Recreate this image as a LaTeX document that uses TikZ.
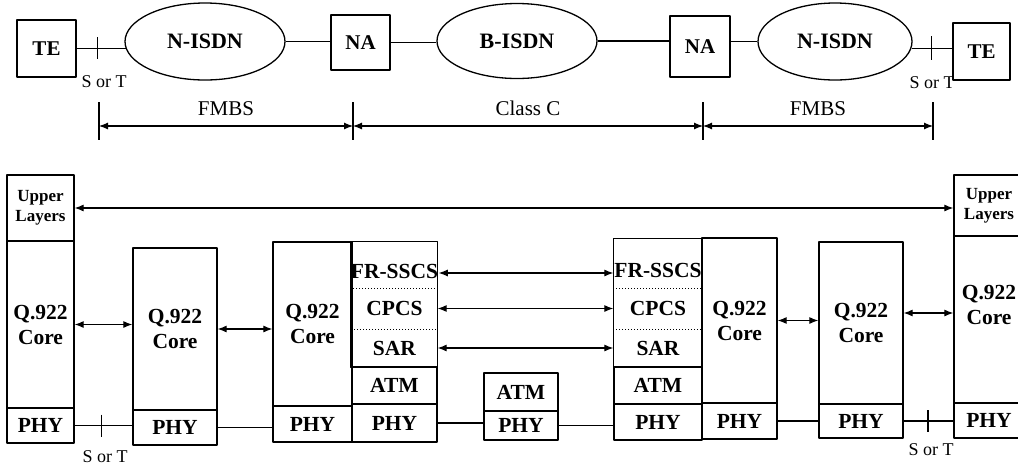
\documentclass[tikz,border=0pt]{standalone}
\usepackage{fontspec}
\setmainfont{Liberation Serif}
\usetikzlibrary{shapes.geometric, arrows.meta}

% one layer of a protocol stack, given by its two corners
\newcommand{\cell}[7][stackcell]{%
  \node[#1, minimum width={(#5-#3)*1pt}, minimum height={(#6-#4)*1pt}]
    (#2) at ({(#3+#5)/2},{(#4+#6)/2}) {#7};}

\begin{document}
\begin{tikzpicture}[
  x=1pt, y=-1pt,
  line join=round,
  unitbox/.style={draw, line width=1.3pt, inner sep=0pt, font=\bfseries\fontsize{21}{24}\selectfont},
  net/.style={draw, ellipse, line width=1.3pt, inner sep=0pt, font=\bfseries\fontsize{22}{25}\selectfont},
  stackcell/.style={draw, line width=1.3pt, inner sep=0pt, align=center, font=\bfseries\fontsize{21.5}{25}\selectfont},
  sub/.style={stackcell, draw=none},
  upper/.style={stackcell, font=\bfseries\fontsize{17}{20}\selectfont},
  link/.style={line width=1.1pt},
  peer/.style={link, {Latex[length=9pt,width=7pt]}-{Latex[length=9pt,width=7pt]}},
  lbl/.style={font=\fontsize{18}{20}\selectfont},
  spanlbl/.style={font=\fontsize{21}{24}\selectfont, above=6pt},
]
\clip (0,0) rectangle (1018,467);

% ── the reference configuration ───────────────────────────────────────────
\node[unitbox, minimum width=59pt, minimum height=57pt] (te1) at (46.5,48.5) {TE};
\node[net, minimum width=160pt, minimum height=77pt] (n1) at (205,41.5) {N-ISDN};
\node[unitbox, minimum width=59pt, minimum height=55pt] (na1) at (360.5,42.5) {NA};
\node[net, minimum width=160pt, minimum height=75pt] (bi) at (517,41) {B-ISDN};
\node[unitbox, minimum width=60pt, minimum height=61pt] (na2) at (700,46.5) {NA};
\node[net, minimum width=154pt, minimum height=77pt] (n2) at (835,41.5) {N-ISDN};
\node[lbl] (st2lbl) at (932,83) {S or T};
\node[unitbox, fill=white, minimum width=57pt, minimum height=57pt] (te2) at (981.5,51.5) {TE};

\draw[link] (te1.east |- n1.185) -- coordinate[pos=0.43] (st1) (n1.185);
\draw[link] ([yshift=11pt]st1) -- ([yshift=-11pt]st1);
\node[lbl] (st1lbl) at (104,82) {S or T};
\draw[link] (n1.east) -- (n1.east -| na1.west);
\draw[link] (na1.east) -- (na1.east -| bi.west);
\draw[link] (bi.east) -- (bi.east -| na2.west);
\draw[link] (n2.west -| na2.east) -- (n2.west);
\draw[link] (n2.-5) -- coordinate[pos=0.49] (st2) (n2.-5 -| te2.west);
\draw[link] ([yshift=12pt]st2) -- ([yshift=-12pt]st2);

% ── what each stretch carries ─────────────────────────────────────────────
\coordinate (d1) at (99,126);
\coordinate (d2) at (353,126);
\coordinate (d3) at (703,126);
\coordinate (d4) at (933,126);
\foreach \d in {d1,d2,d3,d4}
  \draw[link] ([yshift=24pt]\d) -- ([yshift=-14pt]\d);
\draw[peer] (d1) -- node[spanlbl] {FMBS} (d2);
\draw[peer] (d2) -- node[spanlbl] {Class C} (d3);
\draw[peer] (d3) -- node[spanlbl] {FMBS} (d4);

% ── the protocol stacks ───────────────────────────────────────────────────
\cell[upper]{ul1}{7}{175}{74}{241}{Upper\\Layers}
\cell{q1}{7}{241}{74}{408}{Q.922\\Core}
\cell{p1}{7}{408}{74}{443}{PHY}

\cell{q2}{133}{248}{217}{410}{Q.922\\Core}
\cell{p2}{133}{410}{217}{445}{PHY}

\cell{q3}{273}{242}{352}{406}{Q.922\\Core}
\cell{p3a}{273}{406}{352}{442}{PHY}
\cell[sub, text height=28pt]{fr3}{352}{242}{437}{288}{FR-SSCS}
\cell[sub]{cp3}{352}{288}{437}{329}{CPCS}
\cell[sub]{sar3}{352}{329}{437}{367}{SAR}
\cell{atm3}{352}{367}{437}{404}{ATM}
\cell{p3b}{352}{404}{437}{442}{PHY}
\draw[line width=1.3pt] (fr3.north west) rectangle (sar3.south east);
\draw[dotted, line width=1pt] (fr3.south west) -- (fr3.south east);
\draw[dotted, line width=1pt] (cp3.south west) -- (cp3.south east);

\cell{atm}{484}{373}{558}{411}{ATM}
\cell{pm}{484}{411}{558}{440}{PHY}

\cell[sub, text height=28pt]{fr4}{614}{239}{702}{288}{FR-SSCS}
\cell[sub]{cp4}{614}{288}{702}{329}{CPCS}
\cell[sub]{sar4}{614}{329}{702}{367}{SAR}
\cell{atm4}{614}{367}{702}{404}{ATM}
\cell{p4a}{614}{404}{702}{440}{PHY}
\draw[line width=1.3pt] (fr4.north west) rectangle (sar4.south east);
\draw[dotted, line width=1pt] (fr4.south west) -- (fr4.south east);
\draw[dotted, line width=1pt] (cp4.south west) -- (cp4.south east);
\cell{q4}{702}{238}{777}{403}{Q.922\\Core}
\cell{p4b}{702}{403}{777}{439}{PHY}

\cell{q5}{819}{242}{903}{404}{Q.922\\Core}
\cell{p5}{819}{404}{903}{438}{PHY}

\cell[upper]{ul6}{954}{175}{1024}{236}{Upper\\Layers}
\cell[stackcell, text depth=30pt]{q6}{954}{236}{1024}{403}{Q.922\\Core}
\cell{p6}{954}{403}{1024}{438}{PHY}

% ── peer-to-peer exchanges ────────────────────────────────────────────────
\draw[peer] (ul1.east) -- (ul1.east -| ul6.west);
\draw[peer] (q1.east) -- (q1.east -| q2.west);
\draw[peer] (q2.east) -- (q2.east -| q3.west);
\draw[peer] ([yshift=-8pt]fr3.east) -- ([yshift=-8pt]fr3.east -| fr4.west);
\draw[peer] (cp3.east) -- (cp3.east -| cp4.west);
\draw[peer] (sar3.east) -- (sar3.east -| sar4.west);
\draw[peer] (q4.east) -- (q4.east -| q5.west);
\draw[peer] ([yshift=10pt]q5.east) -- ([yshift=10pt]q5.east -| q6.west);

% ── physical links ────────────────────────────────────────────────────────
\draw[link] (p1.east) -- coordinate[pos=0.47] (st3) (p1.east -| p2.west);
\draw[link] ([yshift=11pt]st3) -- ([yshift=-11pt]st3);
\node[lbl] (st3lbl) at (105,457) {S or T};
\draw[link] (p2.east) -- (p2.east -| p3a.west);
\draw[link] (p3b.east) -- (p3b.east -| pm.west);
\draw[link] (pm.east) -- (pm.east -| p4a.west);
\draw[link] (p4b.east) -- (p4b.east -| p5.west);
\draw[link] (p5.east) -- coordinate[pos=0.49] (st4) (p5.east -| p6.west);
\draw[link] ([yshift=11pt]st4) -- ([yshift=-11pt]st4);
\node[lbl] (st4lbl) at (931,450) {S or T};

\end{tikzpicture}
\end{document}
